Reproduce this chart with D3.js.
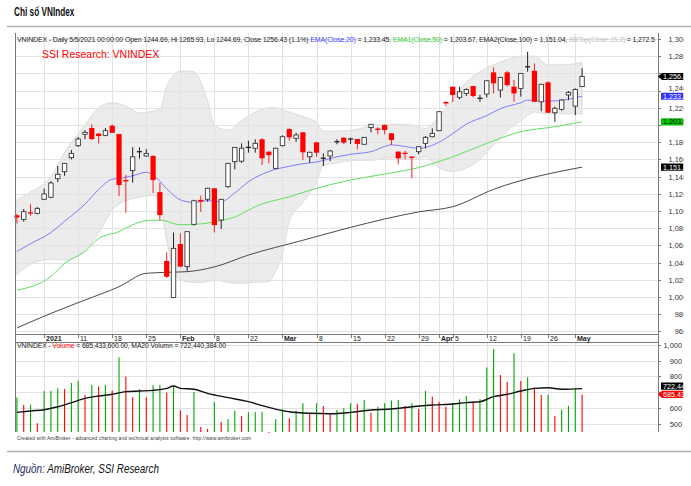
<!DOCTYPE html>
<html><head><meta charset="utf-8">
<script src="https://cdn.jsdelivr.net/npm/d3@7"></script>
<style>
body{margin:0;background:#fff}
svg{display:block}
text{font-family:"Liberation Sans",Arial,sans-serif}
</style>
</head><body>
<svg id="c" width="691" height="486"></svg>
<script>
const dates = ["2020-12-28","2020-12-29","2020-12-30","2020-12-31",
"2021-01-04","2021-01-05","2021-01-06","2021-01-07","2021-01-08",
"2021-01-11","2021-01-12","2021-01-13","2021-01-14","2021-01-15",
"2021-01-18","2021-01-19","2021-01-20","2021-01-21","2021-01-22",
"2021-01-25","2021-01-26","2021-01-27","2021-01-28","2021-01-29",
"2021-02-01","2021-02-02","2021-02-03","2021-02-04","2021-02-05",
"2021-02-08","2021-02-09","2021-02-17","2021-02-18","2021-02-19",
"2021-02-22","2021-02-23","2021-02-24","2021-02-25","2021-02-26",
"2021-03-01","2021-03-02","2021-03-03","2021-03-04","2021-03-05",
"2021-03-08","2021-03-09","2021-03-10","2021-03-11","2021-03-12",
"2021-03-15","2021-03-16","2021-03-17","2021-03-18","2021-03-19",
"2021-03-22","2021-03-23","2021-03-24","2021-03-25","2021-03-26",
"2021-03-29","2021-03-30","2021-03-31","2021-04-01","2021-04-02",
"2021-04-05","2021-04-06","2021-04-07","2021-04-08","2021-04-09",
"2021-04-12","2021-04-13","2021-04-14","2021-04-15","2021-04-16",
"2021-04-19","2021-04-20","2021-04-22","2021-04-23",
"2021-04-26","2021-04-27","2021-04-28","2021-04-29",
"2021-05-04","2021-05-05"];

const open  = [1095,1090.3,1098.5,1097.3,1113.6,1116,1137.6,1145.7,1162,1176,1189.2,1196.5,1190,1188,1199.2,1189.5,1136,1147,1168.5,1164,1164,1122,1042,999.5,1061.6,1035.3,1084.5,1113,1113.6,1126.4,1089.5,1128.3,1157.4,1158,1173.5,1173,1183.4,1169,1149.6,1176,1195.3,1184.5,1191.5,1163.1,1179.8,1161,1164,1180.2,1185.3,1183.5,1183.7,1177.6,1197,1195.6,1200,1190.3,1169,1167.4,1163,1169,1178.7,1186.4,1193.4,1226.3,1244.5,1232.2,1236.8,1245.3,1230.8,1236,1261.2,1240.7,1261.2,1244.5,1242.6,1267.5,1263,1227,1249.6,1214.3,1218.3,1234.9,1222,1244.69];
const high  = [1096.5,1102.3,1107.8,1104.5,1126,1134.7,1152.3,1156,1171,1186,1194,1200.8,1190.5,1196.5,1200.8,1189.5,1142,1174,1174,1172,1165,1133,1052,1075,1074,1076,1113,1118,1127,1127,1114,1156,1174,1178.7,1181.7,1183.4,1184.5,1169.5,1173.5,1188,1196,1191,1192,1169,1180.6,1167,1171,1183.4,1185.5,1185.3,1183.7,1186,1201,1197.3,1200.5,1190.5,1169.5,1170.1,1163.2,1175.6,1187.2,1196,1216,1228,1245,1244.5,1242.6,1245.5,1235,1252,1267,1256,1263,1252.3,1260,1285.2,1271.7,1248,1251,1221.3,1230,1239.5,1242.6,1265.93];
const low   = [1085.5,1087.6,1094.5,1096,1112.8,1115,1133.7,1141,1160,1174.5,1183.4,1182.6,1178.7,1187,1191,1117.4,1098,1133,1161,1163,1121,1088.7,1022.4,999,1035,1030,1083,1099,1111,1075,1079,1127,1148.5,1156,1167.8,1167.8,1153.5,1155.4,1149,1175,1181.7,1180.6,1159.3,1156,1163.1,1152.3,1158,1177.6,1178,1178,1171.7,1177,1191.5,1189.2,1189.2,1176.7,1154.3,1160,1138,1166,1172.9,1185.7,1193,1222,1227,1229.8,1233.7,1232.2,1227,1232,1236.8,1232,1244.5,1227,1233,1262,1227,1216,1214,1203.8,1216.6,1229,1211.6,1244.69];
const close = [1092.5,1099.2,1097,1103.1,1119.8,1132.6,1142.7,1155.4,1167,1183.7,1191.5,1183.7,1187.2,1193.4,1191,1130.2,1134.5,1163,1169.5,1167,1136,1095.3,1023.6,1056.6,1035.3,1076,1112,1111,1126.4,1083.7,1113.6,1155.4,1174,1173,1174.5,1178.7,1161.3,1165,1173,1186.4,1185.7,1188.4,1168.3,1168.3,1167.8,1161.6,1169.8,1181,1179.5,1184,1178,1185.7,1200.8,1194.6,1194.2,1182.6,1161.3,1166.6,1162.2,1174.8,1185.7,1190.3,1215.5,1225.5,1234.9,1238.7,1241.4,1233.7,1231.3,1251.5,1248.5,1255.4,1246.5,1236.8,1260,1268,1227,1247.3,1214.3,1219.4,1229,1238,1241.4,1256.43];
// volume, millions of shares
const volume = [665,618,620,501,707,709,724,720,758,773,682,745,736,745,709,921,800,667,718,667,743,745,696,745,585,554,701,478,465,637,510,527,581,548,571,573,575,440,527,592,533,582,629,565,629,611,565,586,597,629,625,650,569,607,629,646,650,611,629,592,707,671,639,607,629,654,675,639,654,856,975,809,766,947,771,794,730,682,684,548,590,613,720,685.4336];

// indicator readings: [trading-day index, value]
const ema20 = [[0,1053],[2,1062],[5,1075],[7,1088],[10,1108],[12,1125],[14,1137],[15,1138],[17,1141],[19,1145],[20,1142],[22,1126],[24,1113],[26,1110],[28,1112],[30,1111],[32,1121],[34,1134],[37,1146],[40,1152],[42,1155],[44,1157],[47,1163],[49,1166],[52,1169],[54,1175],[55,1177],[57,1175],[59,1173],[62,1180],[64,1190],[66,1201],[69,1211],[71,1219],[74,1226],[75,1229],[77,1228],[79,1228],[81,1230],[83,1233.45]];
const ema50 = [[0,1008],[5,1024],[7,1039],[10,1053],[12,1068],[15,1076],[17,1084],[19,1088.7],[21,1089.5],[24,1084],[27,1085],[30,1089],[32,1093],[34,1101],[35,1105],[40,1116.6],[44,1126.4],[49,1136],[54,1143],[59,1150.5],[64,1163],[69,1178.7],[74,1192.2],[79,1198],[83,1203.67]];
const ema100 = [[0,964],[5,981],[10,996.5],[15,1012],[19,1027.6],[22,1028.7],[25,1029.5],[29,1035],[34,1048.8],[42,1066],[49,1081],[54,1090.7],[59,1099],[64,1105],[70,1125.2],[83,1151.04]];
const bbIdx = [0,2,5,7,10,12,14,16,18,20,21,22,23,24,26,27,28,29,31,33,35,37,38,39,40,42,44,45,47,50,52,55,58,60,62,64,66,68,70,72,74,76,78,80,83];
const bbTop = [1113,1122,1140,1168,1200,1220,1226,1222,1214,1216,1218,1245,1258,1263,1262,1250,1228,1200,1194,1205,1215,1220,1220,1218,1215,1210,1203,1193,1193,1195,1199,1201,1200,1196,1210,1230,1250,1262,1270,1276,1280,1280,1270,1270,1272.5];
const bbBot = [1026,1038,1044,1043,1055,1074,1101,1112,1116,1118,1108,1066,1030,1020,1017,1017,1018,1020,1017,1016,1017,1018,1030,1050,1088,1110,1134,1153,1156,1159,1159,1162,1160,1163,1150,1146,1150,1160,1177,1193,1205,1215,1213,1213,1213];
const ma20Vol = [[0,571],[2,580],[4,588],[6,607],[8,633],[10,660],[12,675],[14,686],[16,703],[18,707],[20,711],[22,724],[23,739],[24,724],[26,718],[28,692],[31,665],[34,639],[36,614],[38,592],[40,575],[43,565],[46,562],[49,571],[52,586],[55,592],[58,607],[61,618],[64,624],[66,633],[68,639],[70,671],[72,686],[74,707],[76,724],[78,728],[80,718],[83,722.440384]];

const tickDates  = ["2021-01-04","2021-01-11","2021-01-18","2021-01-25","2021-02-01","2021-02-08","2021-02-22","2021-03-01","2021-03-08","2021-03-15","2021-03-22","2021-03-29","2021-04-01","2021-04-05","2021-04-12","2021-04-19","2021-04-26","2021-05-04"];
const tickLabels = ["2021","11","18","25","Feb","8","22","Mar","8","15","22","29","Apr","5","12","19","26","May"];
const priceTicks = [960,980,1000,1020,1040,1060,1080,1100,1120,1140,1160,1180,1200,1220,1240,1260,1280,1300];
const volTicks = [500,600,700,800,900,1000];

const svg = d3.select("#c");
const L = 15, R = 658, PT = 33, PB = 334, VT = 342, VB = 432, CLIPX = 683.5;

svg.append("defs").append("clipPath").attr("id", "rclip")
  .append("rect").attr("x", 0).attr("y", 0).attr("width", CLIPX).attr("height", 486);

const x = d3.scaleLinear().domain([0, dates.length - 1]).range([16.9, 582.1]);
const y = d3.scaleLinear().domain([957, 1307]).range([PB, PT]);
const yv = d3.scaleLinear().domain([446, 1000]).range([VB, 345]);
const idxOf = d => dates.indexOf(d);

// title
svg.append("g").attr("transform", "translate(14,15.5) scale(0.66,1)")
  .append("text").text("Chỉ số VNIndex")
  .style("font-weight", "bold").style("font-size", "12.5px").attr("fill", "#111");
svg.append("line").attr("x1", 7).attr("x2", 691).attr("y1", 26.5).attr("y2", 26.5).attr("stroke", "#b0b0b0").attr("stroke-width", 1.5);

// Bollinger band
const bb = bbIdx.map((d, k) => [d, bbTop[k], bbBot[k]]);
svg.append("path").datum(bb)
  .attr("d", d3.area().x(d => x(d[0])).y0(d => y(d[2])).y1(d => y(d[1])).curve(d3.curveMonotoneX))
  .attr("fill", "#ececec").attr("stroke", "#d4d4d4").attr("stroke-width", 0.8);

// grids
const gGrid = svg.append("g").attr("stroke", "#e2e2e2").attr("stroke-width", 1);
priceTicks.forEach(t => gGrid.append("line").attr("x1", L).attr("x2", R).attr("y1", Math.round(y(t)) + 0.5).attr("y2", Math.round(y(t)) + 0.5));
volTicks.forEach(t => gGrid.append("line").attr("x1", L).attr("x2", R).attr("y1", Math.round(yv(t)) + 0.5).attr("y2", Math.round(yv(t)) + 0.5));
tickDates.forEach(d => {
  const xx = Math.round(x(idxOf(d))) + 0.5;
  gGrid.append("line").attr("x1", xx).attr("x2", xx).attr("y1", PT).attr("y2", PB);
  gGrid.append("line").attr("x1", xx).attr("x2", xx).attr("y1", VT).attr("y2", VB);
});

// moving averages
const ln = d3.line().x(d => x(d[0])).y(d => y(d[1])).curve(d3.curveMonotoneX);
svg.append("path").datum(ema100).attr("d", ln).attr("fill", "none").attr("stroke", "#4a4a4a").attr("stroke-width", 1);
svg.append("path").datum(ema50).attr("d", ln).attr("fill", "none").attr("stroke", "#5fe05f").attr("stroke-width", 1);
svg.append("path").datum(ema20).attr("d", ln).attr("fill", "none").attr("stroke", "#7d7dff").attr("stroke-width", 1);

// candles
const gC = svg.append("g");
dates.forEach((d, i) => {
  const o = open[i], c = close[i], h = high[i], l = low[i];
  const up = c >= o;
  const cx = x(i);
  const col = up ? "#303030" : "#ff0000";
  gC.append("line").attr("x1", cx).attr("x2", cx).attr("y1", y(h)).attr("y2", y(l)).attr("stroke", up ? "#202020" : "#ff2020").attr("stroke-width", 1);
  const top = y(Math.max(o, c)), bot = y(Math.min(o, c));
  if (bot - top < 1.2) {
    gC.append("line").attr("x1", cx - 2.6).attr("x2", cx + 2.6).attr("y1", (top + bot) / 2).attr("y2", (top + bot) / 2).attr("stroke", col).attr("stroke-width", 1.4);
  } else if (up) {
    gC.append("rect").attr("x", cx - 2.2).attr("y", top).attr("width", 4.4).attr("height", bot - top).attr("fill", "#fff").attr("stroke", "#3a3a3a").attr("stroke-width", 0.9);
  } else {
    gC.append("rect").attr("x", cx - 2.6).attr("y", top).attr("width", 5.2).attr("height", bot - top).attr("fill", "#ff0000");
  }
});

// volume bars (green when volume rises vs previous day)
const gV = svg.append("g");
volume.forEach((v, i) => {
  const upv = i === 0 || v >= volume[i - 1];
  gV.append("line").attr("x1", x(i)).attr("x2", x(i)).attr("y1", yv(v)).attr("y2", VB)
    .attr("stroke", upv ? "#00a800" : "#ff0000").attr("stroke-width", 1.1);
});
svg.append("path").datum(ma20Vol)
  .attr("d", d3.line().x(d => x(d[0])).y(d => yv(d[1])).curve(d3.curveMonotoneX))
  .attr("fill", "none").attr("stroke", "#111").attr("stroke-width", 1.4);

// frame
const gF = svg.append("g").attr("stroke", "#7a7a7a").attr("stroke-width", 1);
gF.append("line").attr("x1", L + 0.5).attr("x2", L + 0.5).attr("y1", PT).attr("y2", VB);
gF.append("line").attr("x1", R + 0.5).attr("x2", R + 0.5).attr("y1", PT).attr("y2", VB);
gF.append("line").attr("x1", L).attr("x2", R).attr("y1", PB + 0.5).attr("y2", PB + 0.5);
gF.append("line").attr("x1", L).attr("x2", R).attr("y1", VT + 0.5).attr("y2", VT + 0.5);

// date axis
const gD = svg.append("g");
tickDates.forEach((d, k) => {
  const xx = Math.round(x(idxOf(d))) + 0.5;
  gD.append("line").attr("x1", xx).attr("x2", xx).attr("y1", PB + 1).attr("y2", PB + 4).attr("stroke", "#777");
  const bold = isNaN(+tickLabels[k]) || tickLabels[k] === "2021";
  gD.append("text").attr("x", xx + 1.5).attr("y", PB + 6.8).text(tickLabels[k])
    .style("font-size", "7px").style("font-weight", bold ? "bold" : "normal").attr("fill", "#222");
});

// value markers
const last = dates.length - 1;
const markers = [
  {v: close[last], s: y, bg: "#000", fg: "#fff", fmt: ",.2f", arrow: true, panel: 0},
  {v: ema20[ema20.length - 1][1], s: y, bg: "#3232ff", fg: "#fff", fmt: ",.2f", arrow: false, panel: 0},
  {v: ema50[ema50.length - 1][1], s: y, bg: "#00c800", fg: "#000", fmt: ",.2f", arrow: false, panel: 0},
  {v: ema100[ema100.length - 1][1], s: y, bg: "#000", fg: "#fff", fmt: ",.2f", arrow: false, panel: 0},
  {v: ma20Vol[ma20Vol.length - 1][1], s: yv, bg: "#000", fg: "#fff", fmt: ".2f", arrow: false, panel: 1},
  {v: volume[last], s: yv, bg: "#ff0000", fg: "#fff", fmt: ".2f", arrow: true, panel: 1}
];
const HH = 3.6, GAP = 8.2;
markers.forEach(m => { m.y0 = m.s(m.v); m.yy = m.y0; });
[0, 1].forEach(p => {
  const ms = markers.filter(m => m.panel === p).sort((a, b) => b.yy - a.yy);
  for (let k = 1; k < ms.length; k++) {
    if (ms[k - 1].yy - ms[k].yy < GAP) ms[k].yy = ms[k - 1].yy - GAP;
  }
});
const hidden = yy => markers.some(m => Math.abs(m.yy - yy) < 4);
// baseline for a tick label, nudged clear of any marker box next to it
function labelBase(yy) {
  let b = yy + 2.4;
  markers.forEach(m => {
    const top = m.yy - HH, bot = m.yy + HH;
    if (m.yy > yy && b + 1.8 > top) b = top - 1.8;
    if (m.yy < yy && b - 5.6 < bot) b = bot + 5.6;
  });
  return b;
}

// right axes
const gA = svg.append("g").attr("clip-path", "url(#rclip)");
priceTicks.forEach(t => {
  const yy = Math.round(y(t)) + 0.5;
  gA.append("line").attr("x1", R).attr("x2", R + 3).attr("y1", yy).attr("y2", yy).attr("stroke", "#777");
  if (!hidden(yy)) gA.append("text").attr("x", 687).attr("y", labelBase(yy)).attr("text-anchor", "end")
    .text(d3.format(",")(t)).style("font-size", "7.4px").attr("fill", "#333");
});
volTicks.forEach(t => {
  const yy = Math.round(yv(t)) + 0.5;
  gA.append("line").attr("x1", R).attr("x2", R + 3).attr("y1", yy).attr("y2", yy).attr("stroke", "#777");
  if (!hidden(yy)) gA.append("text").attr("x", 682).attr("y", labelBase(yy)).attr("text-anchor", "end")
    .text(d3.format(",")(t)).style("font-size", "7.4px").attr("fill", "#333");
});
markers.forEach(m => {
  const yy = m.yy;
  const p = m.arrow
    ? `M${R},${yy} L${R + 4},${yy - HH} L${CLIPX},${yy - HH} L${CLIPX},${yy + HH} L${R + 4},${yy + HH} Z`
    : `M${R + 3},${yy - HH} L${CLIPX},${yy - HH} L${CLIPX},${yy + HH} L${R + 3},${yy + HH} Z`;
  gA.append("path").attr("d", p).attr("fill", m.bg);
  gA.append("text").attr("x", 663).attr("y", yy + 2.5).text(d3.format(m.fmt)(m.v)).style("font-size", "7.2px").attr("fill", m.fg);
});

// headers
const h1 = svg.append("text").attr("x", 17).attr("y", 41.5).style("font-size", "7px").attr("fill", "#222")
  .attr("textLength", 638).attr("lengthAdjust", "spacing");
h1.append("tspan").text(`VNINDEX - Daily 5/5/2021 00:00:00 Open ${open[last]}, Hi ${high[last]}, Lo ${low[last]}, Close ${close[last]} (1.1%) `);
h1.append("tspan").attr("fill", "#3b3bff").text("EMA(Close,20)");
h1.append("tspan").text(` = ${d3.format(",.2f")(ema20[ema20.length - 1][1])}, `);
h1.append("tspan").attr("fill", "#33cc33").text("EMA1(Close,50)");
h1.append("tspan").text(` = ${d3.format(",.2f")(ema50[ema50.length - 1][1])}, EMA2(Close,100) = ${d3.format(",.2f")(ema100[ema100.length - 1][1])}, `);
h1.append("tspan").attr("fill", "#c0c0c0").text("BBTop(Close,15,2)");
h1.append("tspan").text(` = ${d3.format(",.1f")(bbTop[bbTop.length - 1])}`);

svg.append("text").attr("x", 42).attr("y", 58).text("SSI Research: VNINDEX").style("font-size", "10.5px").attr("fill", "#ff0000");

const h2 = svg.append("text").attr("x", 17).attr("y", 348).style("font-size", "6.8px").attr("fill", "#222")
  .attr("textLength", 209).attr("lengthAdjust", "spacing");
h2.append("tspan").text("VNINDEX - ");
h2.append("tspan").attr("fill", "#ff0000").text("Volume");
h2.append("tspan").text(` = ${d3.format(",.2f")(Math.round(volume[last] * 1e6))}, MA20 Volumn = ${d3.format(",.2f")(Math.round(ma20Vol[ma20Vol.length - 1][1] * 1e6))}`);

svg.append("text").attr("x", 17).attr("y", 439.5).text("Created with AmiBroker - advanced charting and technical analysis software. http://www.amibroker.com")
  .attr("textLength", 234).attr("lengthAdjust", "spacing")
  .style("font-size", "4.8px").attr("fill", "#333");

svg.append("line").attr("x1", 7).attr("x2", 691).attr("y1", 451.5).attr("y2", 451.5).attr("stroke", "#b0b0b0").attr("stroke-width", 1.5);
const src = svg.append("g").attr("transform", "translate(13,472.5) scale(0.79,1)")
  .append("text").style("font-style", "italic").style("font-size", "12.5px");
src.append("tspan").attr("fill", "#1c2b5e").text("Nguồn:");
src.append("tspan").attr("fill", "#111").text(" AmiBroker, SSI Research");
</script>
</body></html>
